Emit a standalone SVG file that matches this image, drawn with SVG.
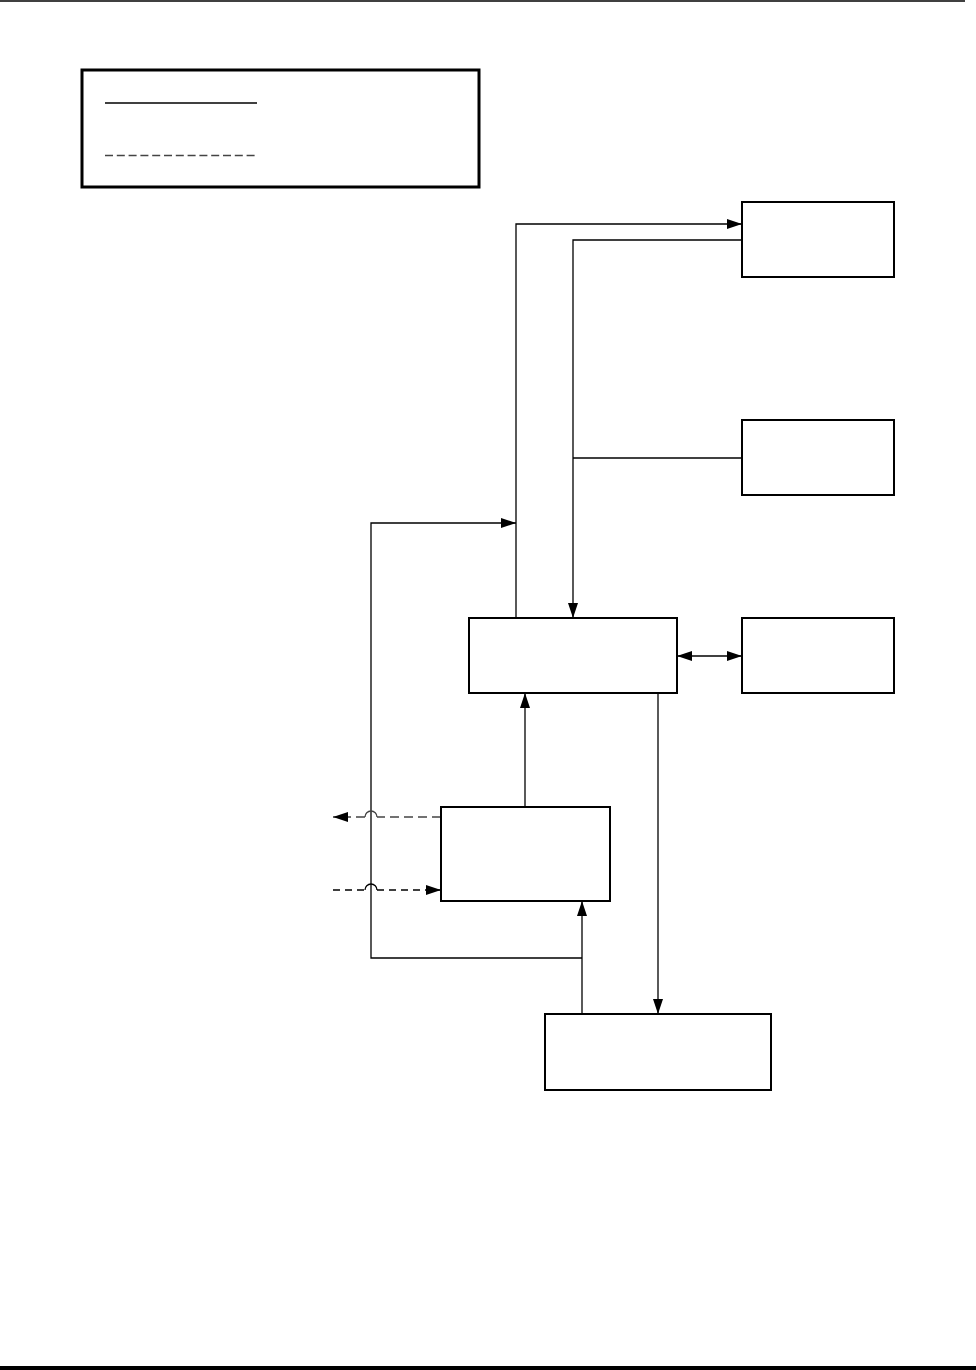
<svg xmlns="http://www.w3.org/2000/svg" width="976" height="1370" viewBox="0 0 976 1370">
<defs>
<marker id="ah" viewBox="0 0 15 10" refX="15" refY="5" markerWidth="15" markerHeight="10" markerUnits="userSpaceOnUse" orient="auto-start-reverse"><path d="M0,0 L15,5 L0,10 Z" fill="#000"/></marker>
</defs>
<style>
.box{fill:#fff;stroke:#000;stroke-width:2}
.ln{fill:none;stroke:#000;stroke-width:1.3}
.dg{fill:none;stroke:#444;stroke-width:1.4;stroke-dasharray:9,5}
.dl{fill:none;stroke:#444;stroke-width:1.4;stroke-dasharray:8,3.8}
.dk{fill:none;stroke:#000;stroke-width:1.3;stroke-dasharray:7,5}
.hop{fill:none;stroke-width:1.3}
</style>
<rect width="976" height="1370" fill="#fff"/>
<line x1="0" y1="1" x2="965" y2="1" stroke="#000" stroke-width="1.5"/>
<line x1="0" y1="1368" x2="976" y2="1368" stroke="#000" stroke-width="4"/>
<g id="legend">
<rect x="82" y="70" width="397" height="117" fill="#fff" stroke="#000" stroke-width="3"/>
<line x1="105" y1="103" x2="257" y2="103" stroke="#000" stroke-width="1.3"/>
<line x1="105" y1="155.5" x2="257" y2="155.5" class="dl"/>
</g>
<g id="connectors">
<path class="ln" d="M516,618 V224 H742" marker-end="url(#ah)"/>
<path class="ln" d="M742,240 H573 V618" marker-end="url(#ah)"/>
<path class="ln" d="M742,458 H573"/>
<path class="ln" d="M582,1014 V901" marker-end="url(#ah)"/>
<path class="ln" d="M582,958 H371 V523 H516" marker-end="url(#ah)"/>
<path class="ln" d="M677,656 H742" marker-start="url(#ah)" marker-end="url(#ah)"/>
<path class="ln" d="M525,807 V693" marker-end="url(#ah)"/>
<path class="ln" d="M658,693 V1014" marker-end="url(#ah)"/>
<path class="dg" d="M441,817 H377"/>
<path class="hop" stroke="#444" d="M377,817 A6,6 0 0 0 365,817"/>
<path class="dg" d="M365,817 H333" marker-end="url(#ah)"/>
<path class="dk" d="M333,890 H365"/>
<path class="hop" stroke="#000" d="M365,890 A6,6 0 0 1 377,890"/>
<path class="dk" d="M377,890 H441" marker-end="url(#ah)"/>
</g>
<g id="nodeA"><rect class="box" x="742" y="202" width="152" height="75"/></g>
<g id="nodeB"><rect class="box" x="742" y="420" width="152" height="75"/></g>
<g id="nodeC"><rect class="box" x="742" y="618" width="152" height="75"/></g>
<g id="nodeD"><rect class="box" x="469" y="618" width="208" height="75"/></g>
<g id="nodeE"><rect class="box" x="441" y="807" width="169" height="94"/></g>
<g id="nodeF"><rect class="box" x="545" y="1014" width="226" height="76"/></g>
</svg>
